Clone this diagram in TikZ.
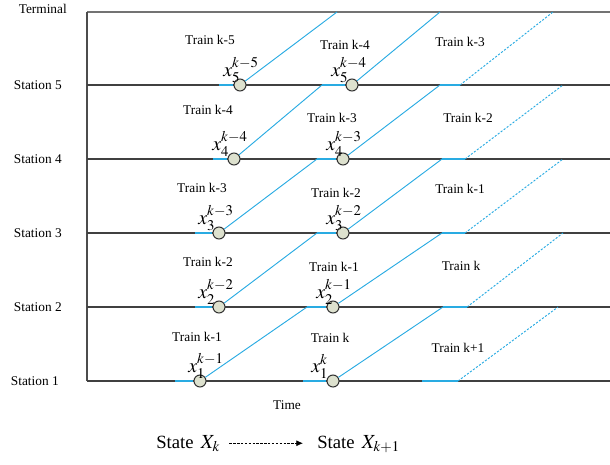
\documentclass[tikz,border=0pt]{standalone}
\usepackage{mathptmx}
\usepackage{fontspec}
\setmainfont{Liberation Serif}
\usetikzlibrary{arrows.meta,positioning}
\definecolor{runblue}{RGB}{41,171,226}
\definecolor{dotfill}{RGB}{221,225,206}

\begin{document}
\begin{tikzpicture}[x=0.75pt, y=-0.75pt,
    track/.style={draw=black!75, line width=0.9pt},
    run/.style={draw=runblue, line width=0.7pt},
    plan/.style={run, dash pattern=on 1.6pt off 1.2pt},
    dwell/.style={draw=runblue, line width=1.1pt},
    dot/.style={circle, draw=black!80, fill=dotfill, line width=0.8pt, minimum size=9pt, inner sep=0pt},
    stn/.style={font=\fontsize{10}{12}\selectfont, inner sep=0pt},
    trn/.style={font=\fontsize{10}{12}\selectfont, inner sep=0pt},
    xlab/.style={font=\fontsize{15}{17}\selectfont, inner sep=0pt, anchor=base west},
    state/.style={font=\fontsize{14}{16}\selectfont, inner sep=0pt, anchor=base west},
    flow/.style={-{Latex[length=5pt, width=4.5pt]}, dash pattern=on 1.8pt off 1.1pt, line width=0.6pt}
]
\useasboundingbox (0,0) rectangle (610,464);

\node[stn, anchor=east] (term) at (67,9) {Terminal};
\node[stn, anchor=east] (s5) at (62,85) {Station 5};
\node[stn, anchor=east] (s4) at (62,159) {Station 4};
\node[stn, anchor=east] (s3) at (62,233) {Station 3};
\node[stn, anchor=east] (s2) at (62,307) {Station 2};
\node[stn, anchor=east] (s1) at (59,381) {Station 1};

\draw[track, draw=black!55, line width=1.3pt] (87,12) -- (610,12);
\draw[track, draw=black!70] (87,12) -- (87,381);
\draw[track] (87,85) -- (610,85);
\draw[track] (87,159) -- (610,159);
\draw[track] (87,233) -- (610,233);
\draw[track] (87,307) -- (610,307);
\draw[track] (87,381) -- (610,381);

\coordinate (d5a) at (219,85);
\coordinate (d4a) at (213,159);
\coordinate (d3a) at (195,233);
\coordinate (d2a) at (195,307);
\coordinate (d1a) at (175,381);
\coordinate (t1) at (337,12);
\coordinate (a5b) at (322,85);
\coordinate (a4b) at (317,159);
\coordinate (a3b) at (317,233);
\coordinate (a2b) at (307,307);
\coordinate (d1b) at (303,381);
\coordinate (t2) at (440,12);
\coordinate (a5c) at (440,85);
\coordinate (a4c) at (442,159);
\coordinate (a3c) at (442,233);
\coordinate (a2c) at (443,307);
\coordinate (d1c) at (422,381);
\coordinate (e5c) at (460,85);
\coordinate (e4c) at (465,159);
\coordinate (e3c) at (465,233);
\coordinate (e2c) at (467,307);
\coordinate (e1c) at (458,381);
\coordinate (ft) at (553,12);
\coordinate (f5c) at (563,85);
\coordinate (f4c) at (563,159);
\coordinate (f3c) at (563,233);
\coordinate (f2c) at (558,307);

\node[dot] (c5a) at (240,85) {};
\node[dot] (c4a) at (234,159) {};
\node[dot] (c3a) at (219,233) {};
\node[dot] (c2a) at (219,307) {};
\node[dot] (c1a) at (200,381) {};
\node[dot] (c5b) at (352,85) {};
\node[dot] (c4b) at (343,159) {};
\node[dot] (c3b) at (343,233) {};
\node[dot] (c2b) at (333,307) {};
\node[dot] (c1b) at (333,381) {};

\draw[dwell] (d5a) -- (c5a);
\draw[dwell] (d4a) -- (c4a);
\draw[dwell] (d3a) -- (c3a);
\draw[dwell] (d2a) -- (c2a);
\draw[dwell] (d1a) -- (c1a);
\draw[run] (c5a) -- (t1);
\draw[run] (c4a) -- (a5b);
\draw[run] (c3a) -- (a4b);
\draw[run] (c2a) -- (a3b);
\draw[run] (c1a) -- (a2b);
\draw[dwell] (a5b) -- (c5b);
\draw[dwell] (a4b) -- (c4b);
\draw[dwell] (a3b) -- (c3b);
\draw[dwell] (a2b) -- (c2b);
\draw[dwell] (d1b) -- (c1b);
\draw[run] (c5b) -- (t2);
\draw[run] (c4b) -- (a5c);
\draw[run] (c3b) -- (a4c);
\draw[run] (c2b) -- (a3c);
\draw[run] (c1b) -- (a2c);
\draw[dwell] (a5c) -- (e5c);
\draw[dwell] (a4c) -- (e4c);
\draw[dwell] (a3c) -- (e3c);
\draw[dwell] (a2c) -- (e2c);
\draw[dwell] (d1c) -- (e1c);
\draw[plan] (e5c) -- (ft);
\draw[plan] (e4c) -- (f5c);
\draw[plan] (e3c) -- (f4c);
\draw[plan] (e2c) -- (f3c);
\draw[plan] (e1c) -- (f2c);

\node[xlab] (x5a) at (223,76) {$x_5^{k-5}$};
\node[xlab] (x4a) at (212,150) {$x_4^{k-4}$};
\node[xlab] (x3a) at (198,224) {$x_3^{k-3}$};
\node[xlab] (x2a) at (198,298) {$x_2^{k-2}$};
\node[xlab] (x1a) at (188,372) {$x_1^{k-1}$};
\node[xlab] (x5b) at (331,76) {$x_5^{k-4}$};
\node[xlab] (x4b) at (326,150) {$x_4^{k-3}$};
\node[xlab] (x3b) at (326,224) {$x_3^{k-2}$};
\node[xlab] (x2b) at (316,298) {$x_2^{k-1}$};
\node[xlab] (x1b) at (311,372) {$x_1^{k}$};

\node[trn] (tr5a) at (210,40) {Train k-5};
\node[trn] (tr5b) at (345,45) {Train k-4};
\node[trn] (tr5c) at (460,42) {Train k-3};
\node[trn] (tr4a) at (208,110) {Train k-4};
\node[trn] (tr4b) at (332,118) {Train k-3};
\node[trn] (tr4c) at (468,118) {Train k-2};
\node[trn] (tr3a) at (202,188) {Train k-3};
\node[trn] (tr3b) at (336,193) {Train k-2};
\node[trn] (tr3c) at (460,189) {Train k-1};
\node[trn] (tr2a) at (208,262) {Train k-2};
\node[trn] (tr2b) at (334,267) {Train k-1};
\node[trn] (tr2c) at (461,266) {Train k};
\node[trn] (tr1a) at (197,337) {Train k-1};
\node[trn] (tr1b) at (330,338) {Train k};
\node[trn] (tr1c) at (458,348) {Train k+1};

\node[trn] (time) at (287,405) {Time};

\node[state] (sk) at (156,448) {State\hspace{2pt} {\fontsize{15}{17}\selectfont$X_k$}};
\node[state] (sk1) at (317,448) {State\hspace{2pt} {\fontsize{15}{17}\selectfont$X_{k+1}$}};
\draw[flow, shorten <=6.75pt, shorten >=10.5pt] (sk.east) -- (sk.east -| sk1.west);
\end{tikzpicture}
\end{document}
